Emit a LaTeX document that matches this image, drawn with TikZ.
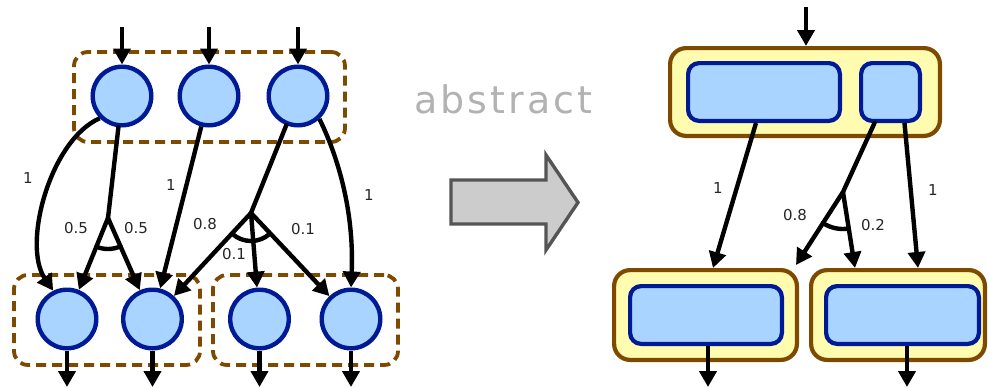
\documentclass[tikz,border=0pt]{standalone}
\usepackage{fontspec}
\setmainfont{DejaVu Sans}
\newfontfamily\absfont[LetterSpace=8]{DejaVu Sans}
\usetikzlibrary{arrows.meta,calc}
\definecolor{cfill}{RGB}{168,212,255}
\definecolor{cline}{RGB}{0,26,150}
\definecolor{brn}{RGB}{125,74,0}
\definecolor{yel}{RGB}{255,252,176}
\definecolor{absgray}{RGB}{178,178,178}
\definecolor{arrfill}{RGB}{204,204,204}
\definecolor{arrline}{RGB}{85,85,85}
\begin{document}
\begin{tikzpicture}[x=1pt,y=-1pt,
  circ/.style={circle,draw=cline,fill=cfill,line width=4.4pt,minimum size=58.6pt,inner sep=0pt},
  grp/.style={rectangle,draw=brn,line width=3.8pt,dash pattern=on 10pt off 6pt,rounded corners=14pt,inner sep=0pt},
  conn/.style={line width=4.4pt,line cap=round},
  arr/.style={line width=4.4pt,-{Triangle[length=16pt,width=17pt]}},
  ybox/.style={rectangle,draw=brn,fill=yel,line width=4.2pt,rounded corners=16pt,inner sep=0pt},
  bbox/.style={rectangle,draw=cline,fill=cfill,line width=4.2pt,rounded corners=11pt,inner sep=0pt,minimum height=57.8pt},
  lab/.style={font=\fontsize{15}{17}\selectfont,text=black!85,inner sep=0pt},
  bigarrow/.style={draw=arrline,fill=arrfill,line width=3.4pt}
]
\useasboundingbox (0,0) rectangle (988,388);

% ---------- left: groups ----------
\node[grp,minimum width=271pt,minimum height=90pt] (G1) at (209.5,97) {};
\node[grp,minimum width=186pt,minimum height=90pt] (G2) at (107,320) {};
\node[grp,minimum width=185pt,minimum height=90pt] (G3) at (305.5,320) {};

% ---------- left: circles ----------
\node[circ] (T1) at (122,96) {};
\node[circ] (T2) at (209,96) {};
\node[circ] (T3) at (298,96) {};
\node[circ] (B1) at (67,319) {};
\node[circ] (B2) at (152.5,319) {};
\node[circ] (B3) at (259.5,319) {};
\node[circ] (B4) at (351,319) {};

\coordinate (i1) at (122,27);
\coordinate (i2) at (209,27);
\coordinate (i3) at (298,27);
\coordinate (o1) at (67,387);
\coordinate (o2) at (152.5,387);
\coordinate (o3) at (259.5,387);
\coordinate (o4) at (351,387);
\coordinate (S1) at (108,218);
\coordinate (S2) at (251,213);

\draw[arr] (i1) -- (T1);
\draw[arr] (i2) -- (T2);
\draw[arr] (i3) -- (T3);
\draw[arr] (B1) -- (o1);
\draw[arr] (B2) -- (o2);
\draw[arr] (B3) -- (o3);
\draw[arr] (B4) -- (o4);

\draw[arr] (T1.225) .. controls (50,140) and (22,245) .. (B1.116);
\draw[conn] (T1) -- (S1);
\draw[arr] (S1) -- (B1);
\draw[arr] (S1) -- (B2);
\draw[conn] ([shift={(248:31pt)}]S1) arc[start angle=248,end angle=294,radius=31pt];
\draw[arr] (T2) -- (B2);
\draw[conn] (T3) -- (S2);
\draw[arr] (S2) -- (B2);
\draw[arr] (S2) -- (B3);
\draw[arr] (S2) -- (B4);
\draw[conn] ([shift={(227:28pt)}]S2) arc[start angle=227,end angle=313,radius=28pt];
\draw[arr] (T3.-47) .. controls (342,165) and (354,220) .. (B4.north);

\node[lab] (l1) at (28,178) {1};
\node[lab] (l2) at (76,228) {0.5};
\node[lab] (l3) at (136,228) {0.5};
\node[lab] (l4) at (171,185) {1};
\node[lab] (l5) at (205,224) {0.8};
\node[lab] (l6) at (303,229) {0.1};
\node[lab] (l7) at (234,254) {0.1};
\node[lab] (l8) at (369,195) {1};

% ---------- middle ----------
\node[anchor=base west,inner sep=0pt,text=absgray,font=\absfont\fontsize{38}{40}\selectfont] (abs) at (414,113) {abstract};
\draw[bigarrow] (451,180) -- (546,180) -- (546,155) -- (578,202.5) -- (546,250) -- (546,224) -- (451,224) -- cycle;

% ---------- right ----------
\node[ybox,minimum width=269.8pt,minimum height=87.8pt] (RT) at (805,92) {};
\node[bbox,minimum width=151.8pt] (I1) at (764,92) {};
\node[bbox,minimum width=58.8pt] (I2) at (890.5,92) {};
\node[ybox,minimum width=182.8pt,minimum height=89.8pt] (BL) at (705.5,315) {};
\node[bbox,minimum width=151.8pt] (BLi) at (706,315) {};
\node[ybox,minimum width=173.8pt,minimum height=89.8pt] (BR) at (898,315) {};
\node[bbox,minimum width=152.8pt] (BRi) at (902.5,315) {};

\coordinate (inR) at (806,7);
\coordinate (outBL) at (708,387);
\coordinate (outBR) at (907,387);
\coordinate (S3) at (843,192);

\draw[arr] (inR) -- (inR |- RT.north);
\draw[arr] (BLi.south -| outBL) -- (outBL);
\draw[arr] (BRi.south -| outBR) -- (outBR);
\draw[arr] ([xshift=-8pt]I1.south) -- ([xshift=7.5pt]BL.north);
\draw[conn] ([xshift=-16pt]I2.south) -- (S3);
\draw[arr] (S3) -- ([xshift=-3pt,yshift=3pt]BL.north east);
\draw[arr] (S3) -- ([xshift=-43pt]BR.north);
\draw[conn] ([shift={(237:37pt)}]S3) arc[start angle=237,end angle=279,radius=37pt];
\draw[arr] ([xshift=14pt]I2.south) -- ([xshift=20pt]BR.north);

\node[lab] (r1) at (718,188) {1};
\node[lab] (r2) at (795,215) {0.8};
\node[lab] (r3) at (873,225) {0.2};
\node[lab] (r4) at (933,190) {1};
\end{tikzpicture}
\end{document}
